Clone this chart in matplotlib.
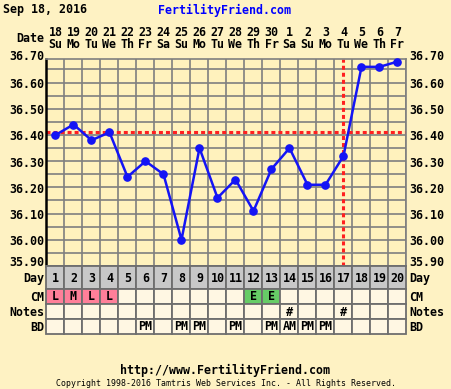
import matplotlib

matplotlib.use("Agg")
import matplotlib.pyplot as plt
import numpy as np

W, H = 452, 389

DAYS = list(range(1, 21))
DATES = [18, 19, 20, 21, 22, 23, 24, 25, 26, 27, 28, 29, 30, 1, 2, 3, 4, 5, 6, 7]
WEEKDAYS = ["Su", "Mo", "Tu", "We", "Th", "Fr", "Sa", "Su", "Mo", "Tu",
            "We", "Th", "Fr", "Sa", "Su", "Mo", "Tu", "We", "Th", "Fr"]
TEMPS = [36.40, 36.44, 36.38, 36.41, 36.24, 36.30, 36.25, 36.00, 36.35, 36.16,
         36.23, 36.11, 36.27, 36.35, 36.21, 36.21, 36.32, 36.66, 36.66, 36.68]
COVERLINE = 36.41
OVULATION_DAY = 17
CM = ["L", "M", "L", "L", "", "", "", "", "", "", "", "E", "E", "", "", "", "", "", "", ""]
NOTES = ["", "", "", "", "", "", "", "", "", "", "", "", "", "#", "", "", "#", "", "", ""]
BD = ["", "", "", "", "", "PM", "", "PM", "PM", "", "PM", "", "PM", "AM", "PM", "PM", "", "", "", ""]
TEMP_LABELS = ["35.90", "36.00", "36.10", "36.20", "36.30", "36.40", "36.50", "36.60", "36.70"]

BG = "#FEF2C3"
PLOT_BG = "#FFF2BD"
CELL_BG = "#FFF7E3"
DAY_BG = "#C8C8C8"
CM_COLOR = {"L": "#FF7F99", "M": "#FF7F99", "E": "#66CC66", "": CELL_BG}
GRID = "#7F7F7F"
BLUE = "#1414F5"
RED = "#FF2020"
FONT = "DejaVu Sans Mono"
FS = 8.4

fig = plt.figure(figsize=(W / 100, H / 100), dpi=100, facecolor=BG)


def fx(px):
    return px / W


def fy(py):
    return 1 - py / H


def ftext(x, y, s, **kw):
    kw.setdefault("fontsize", FS)
    kw.setdefault("fontweight", "bold")
    kw.setdefault("family", FONT)
    kw.setdefault("va", "center")
    fig.text(fx(x), fy(y), s, **kw)


# main temperature chart
left, right, top, bottom = 46.5, 406.5, 59, 266
ax = fig.add_axes([fx(left), fy(bottom), fx(right - left), (bottom - top) / H])
ax.set_facecolor(PLOT_BG)
ax.set_xlim(0.5, 20.5)
ax.set_ylim(35.90, 36.69)
ax.set_xticks(np.arange(0.5, 21, 1.0))
ax.set_yticks(np.arange(35.90, 36.69, 0.05))
ax.tick_params(length=0, labelleft=False, labelbottom=False)
ax.grid(True, color=GRID, linewidth=1.2)
ax.set_axisbelow(True)
for side in ["top", "right", "bottom"]:
    ax.spines[side].set_color(GRID)
    ax.spines[side].set_linewidth(1.2)
ax.spines["left"].set_color("black")
ax.spines["left"].set_linewidth(1.8)

ax.axhline(COVERLINE, color=RED, linewidth=2.2, linestyle=(0, (1.3, 1.0)), zorder=2)
ax.axvline(OVULATION_DAY, color=RED, linewidth=2.2, linestyle=(0, (1.3, 1.0)), zorder=2)
ax.plot(DAYS, TEMPS, color=BLUE, linewidth=1.8, marker="o", markersize=5.2,
        zorder=3, clip_on=False)

for lab in TEMP_LABELS:
    v = float(lab)
    ypx = top + (36.69 - v) / (36.69 - 35.90) * (bottom - top) + 2
    if v > 36.65:
        ypx = 57
    if v < 35.95:
        ypx = 262.5
    ftext(44, ypx, lab, ha="right")
    ftext(409, ypx, lab, ha="left")

# header
ftext(3, 10, "Sep 18, 2016", ha="left")
ftext(224.5, 10, "FertilityFriend.com", ha="center", color="#0000FF")
ftext(44, 38.5, "Date", ha="right")
for d, date, wd in zip(DAYS, DATES, WEEKDAYS):
    xpx = left + (d - 0.5) * 18
    ftext(xpx, 32.5, str(date), ha="center")
    ftext(xpx, 45, wd, ha="center")

# table below chart
row_names = ["Day", "CM", "Notes", "BD"]
row_heights = [23, 15, 15, 15]
t_top = 266
t_bottom = t_top + sum(row_heights)
tax = fig.add_axes([fx(left), fy(t_bottom), fx(right - left), sum(row_heights) / H])
tax.set_xlim(0.5, 20.5)
tax.set_ylim(sum(row_heights), 0)
tax.axis("off")

row_colors = [
    [DAY_BG] * 20,
    [CM_COLOR[c] for c in CM],
    [CELL_BG] * 20,
    [CELL_BG] * 20,
]
row_texts = [[str(d) for d in DAYS], CM, NOTES, BD]
y0 = 0
for name, h, colors, texts in zip(row_names, row_heights, row_colors, row_texts):
    tax.bar(DAYS, h, bottom=y0, width=1.0, color=colors, edgecolor="#6E6E6E",
            linewidth=1.3, clip_on=False)
    for d, s in zip(DAYS, texts):
        if s:
            tax.text(d, y0 + h / 2 + 0.5, s, ha="center", va="center",
                     fontsize=FS, fontweight="bold", family=FONT)
    ypx = t_top + y0 + h / 2 + 1
    ftext(44, ypx, name, ha="right")
    ftext(409, ypx, name, ha="left")
    y0 += h

# footer
ftext(225, 370, "http://www.FertilityFriend.com", ha="center")
ftext(226, 383, "Copyright 1998-2016 Tamtris Web Services Inc. - All Rights Reserved.",
      ha="center", fontsize=5.95, fontweight="normal")

fig.savefig("out.png", dpi=100, facecolor=BG)
